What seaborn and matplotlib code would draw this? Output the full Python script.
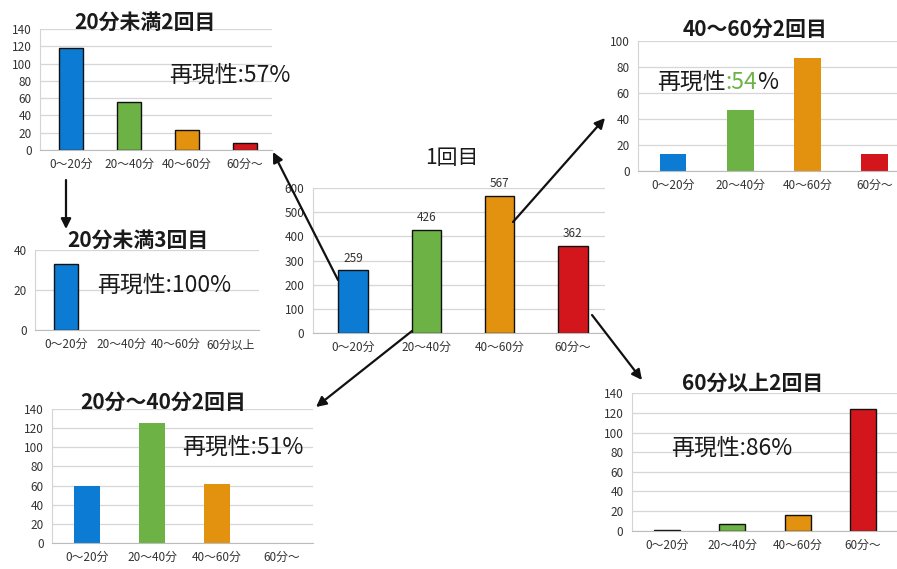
import matplotlib
matplotlib.use("Agg")
import matplotlib.pyplot as plt
import seaborn as sns

# ---- data -------------------------------------------------------------
CATS = ["0～20分", "20～40分", "40～60分", "60分～"]
CATS_THIRD = ["0～20分", "20～40分", "40～60分", "60分以上"]

FIRST = [259, 426, 567, 362]            # 1回目
UNDER20_2ND = [118, 56, 23, 8]          # 20分未満2回目
UNDER20_3RD = [33, 0, 0, 0]             # 20分未満3回目
MID40_60_2ND = [13, 47, 87, 13]         # 40～60分2回目
MID20_40_2ND = [60, 125, 62, 0]         # 20分～40分2回目
OVER60_2ND = [1, 7, 16, 124]            # 60分以上2回目

REPRO_UNDER20_2ND = "57%"
REPRO_UNDER20_3RD = "100%"
REPRO_MID40_60 = "54%"
REPRO_MID20_40 = "51%"
REPRO_OVER60 = "86%"

COLORS = ["#0b7bd3", "#6cb245", "#e3920f", "#d3161b"]

# ---- style ------------------------------------------------------------
sns.set_style("white")
plt.rcParams["font.family"] = ["Noto Sans CJK JP", "DejaVu Sans"]

W, H = 897, 569
fig = plt.figure(figsize=(W / 100, H / 100), dpi=100)
fig.patch.set_facecolor("white")


def panel(cats, vals, x0, step, xlim, y0, ytop, ymax, ystep,
          outline=True, width=0.4):
    """Bar panel placed by pixel geometry: x0 = centre of first bar,
    step = spacing between categories, y0/ytop = pixel rows of 0 and ymax."""
    left = x0 + xlim[0] * step
    right = x0 + xlim[1] * step
    ax = fig.add_axes([left / W, 1 - y0 / H, (right - left) / W, (y0 - ytop) / H])
    sns.barplot(x=cats, y=vals, hue=cats, palette=COLORS, legend=False,
                order=cats, hue_order=cats, width=width, ax=ax,
                edgecolor="#111111" if outline else "none",
                linewidth=1.0 if outline else 0, saturation=1)
    # empty categories draw nothing
    for p in ax.patches:
        if p.get_height() == 0:
            p.set_visible(False)
    ax.set_xlim(*xlim)
    ax.set_ylim(0, ymax)
    ax.set_yticks(range(0, ymax + 1, ystep))
    ax.set_xlabel("")
    ax.set_ylabel("")
    ax.grid(axis="y", color="#d6d6d6", lw=0.9)
    ax.set_axisbelow(True)
    for s in ("top", "right"):
        ax.spines[s].set_visible(False)
    ax.spines["left"].set_color("#d4d4d4")
    ax.spines["bottom"].set_color("#bcbcbc")
    ax.tick_params(axis="both", length=0, labelsize=8.5, colors="#333333")
    ax.tick_params(axis="y", pad=6)
    ax.tick_params(axis="x", pad=6)
    ax.patch.set_alpha(0)
    return ax


# 20分未満2回目
panel(CATS, UNDER20_2ND, 71, 58, (-0.53, 3.47), 150, 29, 140, 20)
# 1回目
ax_first = panel(CATS, FIRST, 353, 73.3, (-0.55, 3.44), 333, 188, 600, 100)
for cont in ax_first.containers:
    ax_first.bar_label(cont, padding=4, fontsize=8.5, color="#333333")
# 40～60分2回目
panel(CATS, MID40_60_2ND, 673, 67.3, (-0.52, 3.5), 170.7, 40.7, 100, 20,
      outline=False)
# 20分未満3回目
panel(CATS_THIRD, UNDER20_3RD, 66, 55, (-0.56, 3.5), 330, 250, 40, 20,
      width=0.44)
# 20分～40分2回目
panel(CATS, MID20_40_2ND, 87, 65, (-0.54, 3.48), 543, 409, 140, 20,
      outline=False)
# 60分以上2回目
panel(CATS, OVER60_2ND, 667, 65.3, (-0.54, 3.52), 530.7, 393.3, 140, 20)

# ---- overlay for titles, notes and arrows (pixel coordinates) ----------
ov = fig.add_axes([0, 0, 1, 1], zorder=10)
ov.set_xlim(0, W)
ov.set_ylim(H, 0)
ov.axis("off")
ov.patch.set_alpha(0)

TXT = "#1a1a1a"
title_kw = dict(fontsize=15, fontweight="bold", ha="center", va="center", color=TXT)
ov.text(145, 22, "20分未満2回目", **title_kw)
ov.text(755, 29, "40～60分2回目", **title_kw)
ov.text(138, 240, "20分未満3回目", **title_kw)
ov.text(163, 402, "20分～40分2回目", **title_kw)
ov.text(753, 383, "60分以上2回目", **title_kw)
ov.text(452, 158, "1回目", fontsize=15, ha="center", va="center", color=TXT)

NOTE_FS = 16.5
note_kw = dict(fontsize=NOTE_FS, ha="left", va="center", color=TXT)
ov.text(169, 75, "再現性:" + REPRO_UNDER20_2ND, **note_kw)
ov.text(97, 285, "再現性:" + REPRO_UNDER20_3RD, **note_kw)
ov.text(182, 447, "再現性:" + REPRO_MID20_40, **note_kw)
ov.text(671, 448, "再現性:" + REPRO_OVER60, **note_kw)

# 再現性:54% with the figure shown in green
t1 = ov.text(657, 82, "再現性", **note_kw)
t2 = ov.annotate(":" + REPRO_MID40_60[:-1], xy=(1, 0.5), xycoords=t1,
                 ha="left", va="center", fontsize=NOTE_FS, color="#6cb245")
ov.annotate("%", xy=(1, 0.5), xycoords=t2, ha="left", va="center",
            fontsize=NOTE_FS, color=TXT)

# arrows linking the first-round bars to the second-round panels
arrow_kw = dict(arrowstyle="-|>,head_length=0.6,head_width=0.3",
                color="#111111", lw=1.6, shrinkA=0, shrinkB=0)
for tail, tip in [((338, 280), (273, 152)),
                  ((513, 222), (605, 118)),
                  ((412, 331), (316, 407)),
                  ((592, 315), (642, 380)),
                  ((66, 180), (66, 229))]:
    ov.annotate("", xy=tip, xytext=tail, arrowprops=arrow_kw)

fig.savefig("out.png", dpi=100)
